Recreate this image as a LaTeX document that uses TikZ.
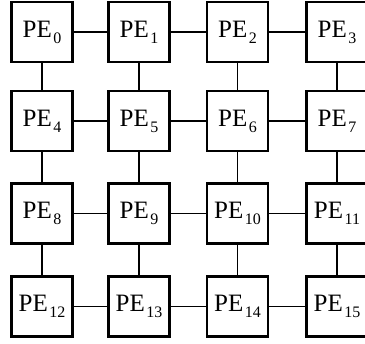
\documentclass[tikz,border=0pt]{standalone}
\usepackage{fontspec}
\setmainfont{Liberation Serif}
\newcommand{\pelabel}[1]{PE\kern1.5pt\raisebox{-6pt}{\fontsize{16}{18}\selectfont #1}}
\tikzset{
  pebox/.style={draw, line width=2.4pt, minimum width=61pt, minimum height=60pt,
    inner sep=0pt, font=\fontsize{25}{28}\selectfont},
  link/.style={line width=1.8pt}
}
\begin{document}
\begin{tikzpicture}[x=1pt, y=-1pt]
  \clip (0,0) rectangle (365,344);
  % 4x4 mesh of processing elements
  \foreach \r/\yy in {0/32, 1/121, 2/213.5, 3/306.5} {
    \foreach \c/\xx in {0/42, 1/139, 2/237.5, 3/337} {
      \pgfmathtruncatemacro{\idx}{4*\r+\c}
      \node[pebox] (pe\idx) at (\xx,\yy) {\pelabel{\idx}};
    }
  }
  % horizontal links
  \foreach \r in {0,...,3} {
    \foreach \c in {0,1,2} {
      \pgfmathtruncatemacro{\a}{4*\r+\c}
      \pgfmathtruncatemacro{\b}{4*\r+\c+1}
      \draw[link] (pe\a.east) -- (pe\b.west);
    }
  }
  % vertical links
  \foreach \r in {0,1,2} {
    \foreach \c in {0,...,3} {
      \pgfmathtruncatemacro{\a}{4*\r+\c}
      \pgfmathtruncatemacro{\b}{4*\r+\c+4}
      \draw[link] (pe\a.south) -- (pe\b.north);
    }
  }
\end{tikzpicture}
\end{document}
